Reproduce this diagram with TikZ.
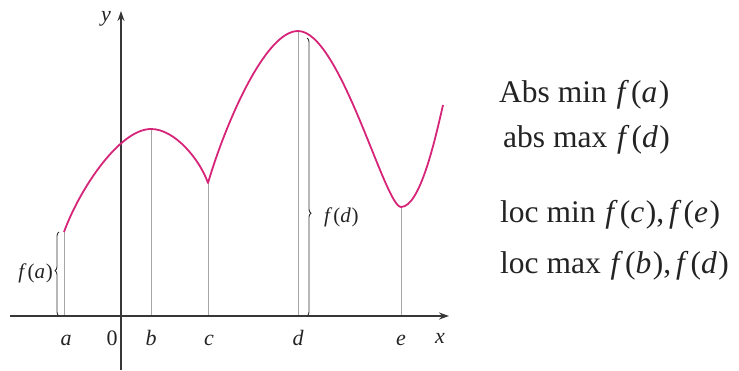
\documentclass[tikz,border=0pt]{standalone}
\usepackage{fontspec}
\setmainfont{Liberation Serif}
\usetikzlibrary{arrows.meta,decorations.pathreplacing}
\definecolor{curvec}{RGB}{214,36,120}
\definecolor{axisc}{RGB}{55,55,55}
\definecolor{guidec}{RGB}{165,165,165}
\definecolor{bracec}{RGB}{50,50,50}
\definecolor{textc}{RGB}{35,35,35}
\newcommand{\fval}[1]{\textit{f}\kern0.8pt(\textit{#1}\kern0.8pt)}
\newcommand{\fbig}[1]{\kern2pt\textit{f}\kern2pt(\textit{#1}\kern1.5pt)}
\begin{document}
\begin{tikzpicture}[x=1pt,y=-1pt,
  axisline/.style={draw=axisc,line width=1.2pt,-{Stealth[length=10pt,width=7pt]}},
  guide/.style={draw=guidec,line width=0.9pt},
  curveline/.style={draw=curvec,line width=1.8pt,line join=round},
  bracestyle/.style={draw=bracec,line width=0.9pt,decorate,decoration={brace,amplitude=4pt}},
  ticklab/.style={inner sep=0pt,anchor=base,text=textc,font=\fontsize{22}{26}\selectfont\itshape},
  glab/.style={inner sep=0pt,text=textc,font=\fontsize{21}{25}\selectfont},
  rtext/.style={inner sep=0pt,anchor=base west,text=textc,font=\fontsize{31.5}{36}\selectfont}]
\useasboundingbox (0,0) rectangle (739,370);
% axes
\coordinate (xs) at (10,316);
\coordinate (xe) at (449,316);
\coordinate (ys) at (121,370);
\coordinate (ye) at (121,11);
% curve points
\coordinate (A) at (64,232);
\coordinate (B) at (151,129);
\coordinate (C) at (208,183);
\coordinate (D) at (298,31);
\coordinate (E) at (401,207);
\coordinate (F) at (443,105);
% feet
\coordinate (Af) at (64,316);
\coordinate (Bf) at (151,316);
\coordinate (Cf) at (208,316);
\coordinate (Df) at (298,316);
\coordinate (Ef) at (401,316);
% guide lines
\draw[guide] (Af) -- (A);
\draw[guide] (Bf) -- (B);
\draw[guide] (Cf) -- (C);
\draw[guide] (Df) -- (D);
\draw[guide] (Ef) -- (E);
% axes
\draw[axisline] (xs) -- (xe);
\draw[axisline] (ys) -- (ye);
% curve
\draw[curveline] (A) .. controls (80,188) and (120,129) .. (B)
  .. controls (175,129) and (200,160) .. (C)
  .. controls (225,125) and (265,31) .. (D)
  .. controls (340,31) and (385,207) .. (E)
  .. controls (420,207) and (435,140) .. (F);
% braces
\coordinate (fa1) at (59,316);
\coordinate (fa2) at (59,232);
\coordinate (fd1) at (307,38);
\coordinate (fd2) at (307,316);
\draw[bracestyle,decoration={aspect=0.54}] (fa1) -- (fa2);
\draw[bracestyle,decoration={aspect=0.63}] (fd1) -- (fd2);
\node[glab,anchor=east] (lfa) at (53,273) {\fval{a}};
\node[glab,anchor=west] (lfd) at (324,217) {\fval{d}};
% tick labels
\node[ticklab] (la) at (66,345) {a};
\node[ticklab,font=\fontsize{22}{26}\selectfont] (l0) at (112,345) {0};
\node[ticklab] (lb) at (151,345) {b};
\node[ticklab] (lc) at (209,345) {c};
\node[ticklab] (ld) at (298,345) {d};
\node[ticklab] (le) at (401,345) {e};
\node[ticklab] (lx) at (440,343) {x};
\node[ticklab] (ly) at (106,21) {y};
% right text
\node[rtext] (t1) at (499,102) {Abs min \fbig{a}};
\node[rtext] (t2) at (503,147) {abs max \fbig{d}};
\node[rtext] (t3) at (500,222) {loc min \fbig{c},\kern3pt\fbig{e}};
\node[rtext] (t4) at (500,273) {loc max \fbig{b},\kern3pt\fbig{d}};
\end{tikzpicture}
\end{document}
